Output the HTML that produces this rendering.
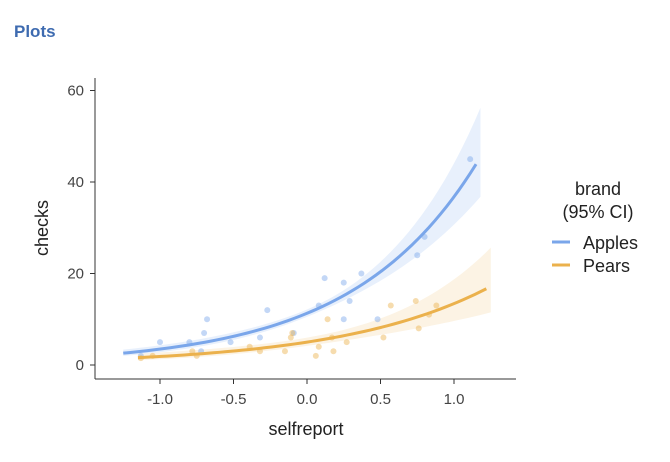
<!DOCTYPE html>
<html><head><meta charset="utf-8"><style>
body{margin:0;background:#fff;width:670px;height:462px;overflow:hidden;font-family:"Liberation Sans",sans-serif}
</style></head><body>
<svg id="chart" width="670" height="462" style="position:absolute;left:0;top:0">
<text x="14" y="37" font-size="17" font-weight="bold" fill="#3e6bb0">Plots</text>
<g id="bands"></g><g id="points"></g><g id="lines"></g>
<line x1="95" y1="78" x2="95" y2="379" stroke="#333" stroke-width="1"/>
<line x1="95" y1="379" x2="516" y2="379" stroke="#333" stroke-width="1"/>
<g id="ticks"></g>
<text x="48" y="228" font-size="18" fill="#222" text-anchor="middle" transform="rotate(-90 48 228)">checks</text>
<text x="306" y="435" font-size="18" fill="#222" text-anchor="middle">selfreport</text>
<g>
<text x="598" y="195" font-size="18" fill="#222" text-anchor="middle">brand</text>
<text x="598" y="218" font-size="18" fill="#222" text-anchor="middle">(95% CI)</text>
<line x1="552" y1="242" x2="570" y2="242" stroke="#7aa6ea" stroke-width="3"/>
<text x="583" y="249" font-size="18" fill="#222">Apples</text>
<line x1="552" y1="265" x2="570" y2="265" stroke="#ebb14c" stroke-width="3"/>
<text x="583" y="272" font-size="18" fill="#222">Pears</text>
</g>
</svg>
<script>
const xTicks=[-1.0,-0.5,0.0,0.5,1.0];
const xTickLabels=["-1.0","-0.5","0.0","0.5","1.0"];
const yTicks=[0,20,40,60];
const applesX=[1.11,0.80,0.75,0.37,0.12,0.25,0.29,0.08,0.25,0.48,-0.27,-0.32,-0.09,-0.52,-0.68,-0.70,-0.72,-0.80,-1.0,-1.13];
const applesY=[45,28,24,20,19,18,14,13,10,10,12,6,7,5,10,7,3,5,5,2];
const pearsX=[0.88,0.74,0.57,0.83,0.76,0.52,0.14,0.27,0.18,0.17,0.08,0.06,-0.11,-0.10,-0.15,-0.32,-0.39,-0.78,-0.75,-1.05,-1.13];
const pearsY=[13,14,13,11,8,6,10,5,3,6,4,2,6,7,3,3,4,3,2,2,1.5];
const applesFit=[11.3,1.18,0.035,0.095];   // intercept, slope(log), se0, se slope
const pearsFit=[5.0,0.987,0.09,0.16];
const applesRange=[-1.25,1.15];
const pearsRange=[-1.15,1.22];
const sx=v=>307+v*147, sy=v=>365-v*4.575;
const NS='http://www.w3.org/2000/svg';
function mk(tag,attrs,parent){const e=document.createElementNS(NS,tag);for(const k in attrs)e.setAttribute(k,attrs[k]);document.getElementById(parent).appendChild(e);return e;}
xTicks.forEach((t,i)=>{
  const l=mk('line',{x1:sx(t),x2:sx(t),y1:379,y2:384,stroke:'#333'},'ticks');
  
  
  const tx=mk('text',{x:sx(t),y:404,'font-size':15,fill:'#444','text-anchor':'middle'},'ticks');tx.textContent=xTickLabels[i];
  
  
});
yTicks.forEach(t=>{
  const l=mk('line',{x1:90,x2:95,y1:sy(t),y2:sy(t),stroke:'#333'},'ticks');
  
  
  const tx=mk('text',{x:84,y:sy(t)+5,'font-size':15,fill:'#444','text-anchor':'end'},'ticks');tx.textContent=t;
  
  
});
function series(name,X,Y,fit,range,col,band){
  X.forEach((x,i)=>{
    const c=mk('circle',{cx:sx(x),cy:sy(Y[i]),r:3,fill:col,'fill-opacity':0.45},'points');
    
    
  });
  const f=x=>fit[0]*Math.exp(fit[1]*x);
  const se=x=>Math.sqrt(fit[2]*fit[2]+Math.pow(fit[3]*(x-0.1),2));
  let up=[],lo=[],ln=[];
  const bEnd=range[1]+0.03;
  for(let k=0;k<=60;k++){const x=range[0]+(bEnd-range[0])*k/60;
    up.push(sx(x)+','+sy(f(x)*Math.exp(1.96*se(x))));lo.push(sx(x)+','+sy(f(x)*Math.exp(-1.96*se(x))));}
  for(let k=0;k<=60;k++){const x=range[0]+(range[1]-range[0])*k/60;ln.push(sx(x)+','+sy(f(x)));}
  const p=mk('polygon',{points:up.concat(lo.reverse()).join(' '),fill:band},'bands');
  
  
  const l=mk('polyline',{points:ln.join(' '),fill:'none',stroke:col,'stroke-width':3},'lines');
  
  
}
series('apples',applesX,applesY,applesFit,applesRange,'#7aa6ea','#e8f0fc');
series('pears',pearsX,pearsY,pearsFit,pearsRange,'#ebb14c','#fcf3e4');
</script>
</body></html>
